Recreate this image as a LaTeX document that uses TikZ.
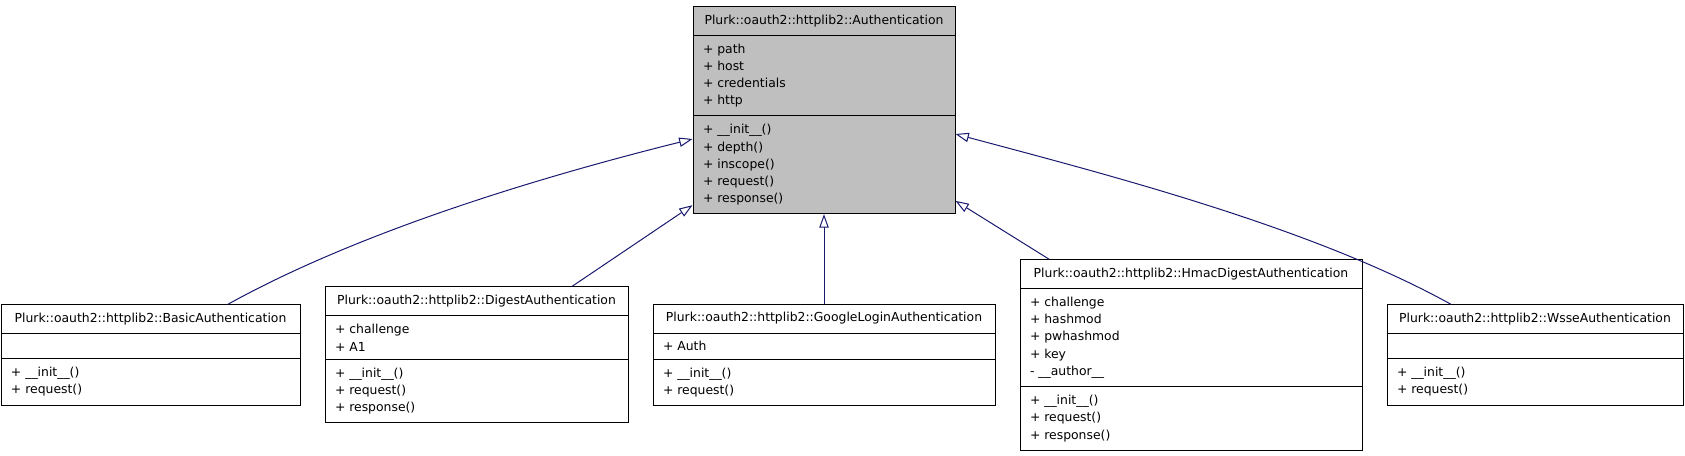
\documentclass[tikz,border=0pt]{standalone}
\usepackage{fontspec}
\setmainfont{DejaVu Sans}
\usepackage{tikz}
\usetikzlibrary{arrows.meta,positioning,calc,shapes.multipart}
\definecolor{edgeblue}{HTML}{191970}
\definecolor{basegray}{HTML}{BFBFBF}
\tikzset{
  classbox/.style={
    rectangle split,rectangle split parts=3,draw=black,line width=0.75pt,
    fill=white,align=left,rectangle split part align={center,left,left},
    inner xsep=7.5pt,inner ysep=6pt,
    rectangle split empty part height=6pt,rectangle split empty part depth=0pt,
    font=\fontsize{9.3pt}{12.9pt}\selectfont
  },
  baseclass/.style={classbox,fill=basegray},
  inherit/.style={-{Triangle[length=10pt,width=7pt,fill=white]},draw=edgeblue,line width=0.75pt}
}
\begin{document}
\begin{tikzpicture}
  \useasboundingbox (0,0) rectangle (1263.75pt,-342pt);
  \node[baseclass,minimum width=196.5pt] (base) at (618pt,-82.5pt)
    {Plurk::oauth2::httplib2::Authentication
     \nodepart{two}+ path\\+ host\\+ credentials\\+ http
     \nodepart{three}+ \_\_init\_\_()\\+ depth()\\+ inscope()\\+ request()\\+ response()};
  \node[classbox,minimum width=256.5pt,below=67pt of base] (google)
    {Plurk::oauth2::httplib2::GoogleLoginAuthentication
     \nodepart{two}+ Auth
     \nodepart{three}+ \_\_init\_\_()\\+ request()};
  \node[classbox,minimum width=227.25pt,left=18pt of google] (digest)
    {Plurk::oauth2::httplib2::DigestAuthentication
     \nodepart{two}+ challenge\\+ A1
     \nodepart{three}+ \_\_init\_\_()\\+ request()\\+ response()};
  \node[classbox,minimum width=224.25pt,left=18pt of digest] (basic)
    {Plurk::oauth2::httplib2::BasicAuthentication
     \nodepart{two}
     \nodepart{three}+ \_\_init\_\_()\\+ request()};
  \node[classbox,minimum width=256.5pt,right=18pt of google] (hmac)
    {Plurk::oauth2::httplib2::HmacDigestAuthentication
     \nodepart{two}+ challenge\\+ hashmod\\+ pwhashmod\\+ key\\- \_\_author\_\_
     \nodepart{three}+ \_\_init\_\_()\\+ request()\\+ response()};
  \node[classbox,minimum width=222pt,right=18pt of hmac] (wsse)
    {Plurk::oauth2::httplib2::WsseAuthentication
     \nodepart{two}
     \nodepart{three}+ \_\_init\_\_()\\+ request()};
  % inheritance
  \draw[inherit] ([xshift=58pt]basic.north) .. controls +(29:120pt) and +(194:103pt) .. ([yshift=-21.75pt]base.west);
  \draw[inherit] ([xshift=71.6pt]digest.north) -- ([yshift=6.75pt]base.south west);
  \draw[inherit] (google.north) -- (base.south);
  \draw[inherit] ([xshift=-106.5pt]hmac.north) -- ([yshift=10pt]base.south east);
  \draw[inherit] ([xshift=-63pt]wsse.north) .. controls +(151:120pt) and +(-15:116pt) .. ([yshift=-18pt]base.east);
\end{tikzpicture}
\end{document}
